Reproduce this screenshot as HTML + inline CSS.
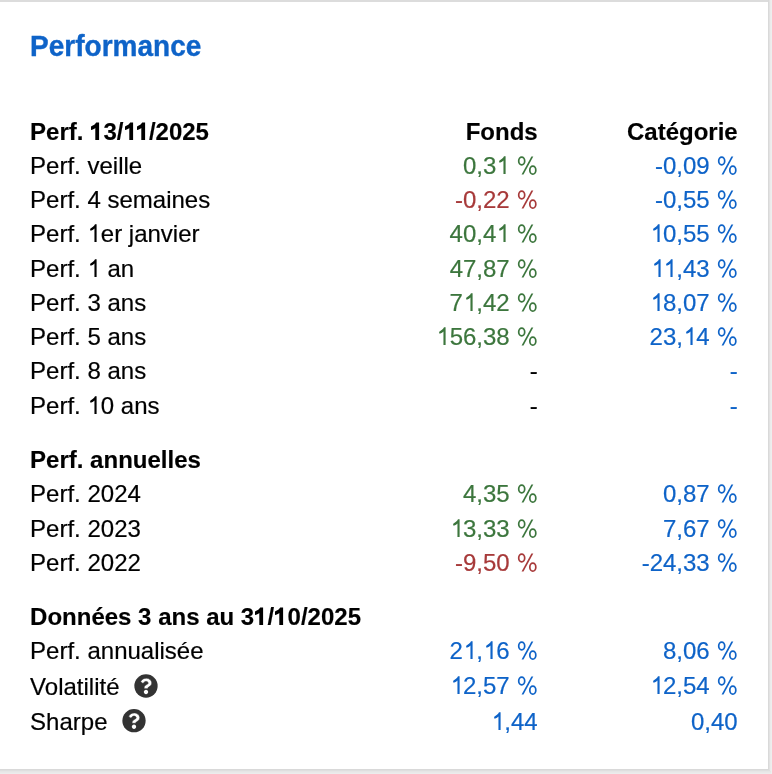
<!DOCTYPE html>
<html><head><meta charset="utf-8"><style>
html,body{margin:0;padding:0;}
body{width:772px;height:774px;background:#eeeeee;position:relative;overflow:hidden;font-family:"Liberation Sans",sans-serif;}
.card{position:absolute;left:0;top:0;width:768px;height:769px;background:#fff;}
.br{position:absolute;left:768px;top:0;width:2px;height:771px;background:#dedede;}
.bb{position:absolute;left:0;top:769px;width:770px;height:2px;background:#dadada;}
.wrap{position:absolute;left:0;top:0;width:772px;height:774px;will-change:transform;}
.title{position:absolute;left:30.1px;top:30px;font-size:28px;font-weight:bold;color:#0e63c8;line-height:34px;white-space:nowrap;transform:scaleY(1.03);transform-origin:0 26px;}
.r{position:absolute;left:0;width:772px;height:34px;line-height:34px;font-size:24px;color:#000;white-space:nowrap;}
.b{font-weight:bold;}
.l{position:absolute;left:30.1px;top:0;}
.c1{position:absolute;right:234.3px;top:0;}
.c2{position:absolute;right:34.3px;top:0;}
.q{position:absolute;}
.g{position:relative;-webkit-text-fill-color:transparent;-webkit-text-stroke-color:transparent;}
.gs{position:absolute;left:0;top:0;overflow:visible;fill:currentColor;}
.wrap .r{-webkit-text-stroke:0.2px currentColor;}
.wrap .b{-webkit-text-stroke:0.15px currentColor;}
.title{-webkit-text-stroke:0.35px currentColor;}
</style></head><body>
<div class="card"></div>
<div style="position:absolute;left:0;top:0;width:770px;height:2px;background:#dcdcdc"></div>
<div style="position:absolute;left:768px;top:0;width:1px;height:770px;background:#d9d9d9"></div>
<div style="position:absolute;left:769px;top:0;width:1px;height:771px;background:#e2e2e2"></div>
<div style="position:absolute;left:770px;top:0;width:1px;height:774px;background:#ebebeb"></div>
<div style="position:absolute;left:0;top:769px;width:769px;height:1px;background:#d9d9d9"></div>
<div style="position:absolute;left:0;top:770px;width:770px;height:1px;background:#dfdfdf"></div>
<div style="position:absolute;left:0;top:771px;width:771px;height:1px;background:#e6e6e6"></div>
<div style="position:absolute;left:0;top:772px;width:771px;height:1px;background:#e9e9e9"></div>
<div style="position:absolute;left:0;top:773px;width:771px;height:1px;background:#ececec"></div>
<div class="wrap">
<div class="title">Performance</div>
<div class="r b" style="top:115px"><span class="l">Perf. <span class="g">1<svg class="gs" width="24" height="26" viewBox="0 -22 24 26"><path d="M9.1 0L9.1 -17.45L6.2 -17.45C5.5 -15.9 3.6 -14.6 1.0 -13.6L1.0 -9.9C2.6 -10.4 4.2 -11.1 5.3 -12.0L5.3 0Z"/></svg></span>3/<span class="g" style="margin-right:-1.3242px">1<svg class="gs" width="24" height="26" viewBox="0 -22 24 26"><path d="M9.1 0L9.1 -17.45L6.2 -17.45C5.5 -15.9 3.6 -14.6 1.0 -13.6L1.0 -9.9C2.6 -10.4 4.2 -11.1 5.3 -12.0L5.3 0Z"/></svg></span><span class="g">1<svg class="gs" width="24" height="26" viewBox="0 -22 24 26"><path d="M9.1 0L9.1 -17.45L6.2 -17.45C5.5 -15.9 3.6 -14.6 1.0 -13.6L1.0 -9.9C2.6 -10.4 4.2 -11.1 5.3 -12.0L5.3 0Z"/></svg></span>/2025</span><span class="c1" style="color:#000;top:0px">Fonds</span><span class="c2" style="color:#000;top:0px">Catégorie</span></div>
<div class="r" style="top:149px"><span class="l">Perf. veille</span><span class="c1" style="color:#3c763d;top:0px">0,3<span class="g">1<svg class="gs" width="24" height="26" viewBox="0 -22 24 26"><path d="M9.6 0L9.6 -17.65L8.0 -17.65C7.3 -16.1 5.6 -14.6 3.5 -13.4C3.1 -13.1 3.0 -12.4 3.2 -11.9C3.4 -11.3 3.9 -11.2 4.4 -11.5C5.5 -12.1 6.6 -12.8 7.45 -13.6L7.45 0Z"/></svg></span> <span class="g">%<svg class="gs" width="24" height="26" viewBox="0 -22 24 26"><ellipse cx="5.7" cy="-13.0" rx="3.0" ry="3.85" fill="none" stroke="currentColor" stroke-width="1.7"/><ellipse cx="16.82" cy="-3.85" rx="3.0" ry="3.95" fill="none" stroke="currentColor" stroke-width="1.7"/><path d="M15.4 -17.45L17.3 -17.45L7.5 0.55L5.6 0.55Z"/></svg></span></span><span class="c2" style="color:#0e63c8;top:0px">-0,09 <span class="g">%<svg class="gs" width="24" height="26" viewBox="0 -22 24 26"><ellipse cx="5.7" cy="-13.0" rx="3.0" ry="3.85" fill="none" stroke="currentColor" stroke-width="1.7"/><ellipse cx="16.82" cy="-3.85" rx="3.0" ry="3.95" fill="none" stroke="currentColor" stroke-width="1.7"/><path d="M15.4 -17.45L17.3 -17.45L7.5 0.55L5.6 0.55Z"/></svg></span></span></div>
<div class="r" style="top:183px"><span class="l">Perf. 4 semaines</span><span class="c1" style="color:#a73a3a;top:0px">-0,22 <span class="g">%<svg class="gs" width="24" height="26" viewBox="0 -22 24 26"><ellipse cx="5.7" cy="-13.0" rx="3.0" ry="3.85" fill="none" stroke="currentColor" stroke-width="1.7"/><ellipse cx="16.82" cy="-3.85" rx="3.0" ry="3.95" fill="none" stroke="currentColor" stroke-width="1.7"/><path d="M15.4 -17.45L17.3 -17.45L7.5 0.55L5.6 0.55Z"/></svg></span></span><span class="c2" style="color:#0e63c8;top:0px">-0,55 <span class="g">%<svg class="gs" width="24" height="26" viewBox="0 -22 24 26"><ellipse cx="5.7" cy="-13.0" rx="3.0" ry="3.85" fill="none" stroke="currentColor" stroke-width="1.7"/><ellipse cx="16.82" cy="-3.85" rx="3.0" ry="3.95" fill="none" stroke="currentColor" stroke-width="1.7"/><path d="M15.4 -17.45L17.3 -17.45L7.5 0.55L5.6 0.55Z"/></svg></span></span></div>
<div class="r" style="top:217px"><span class="l">Perf. <span class="g">1<svg class="gs" width="24" height="26" viewBox="0 -22 24 26"><path d="M9.6 0L9.6 -17.65L8.0 -17.65C7.3 -16.1 5.6 -14.6 3.5 -13.4C3.1 -13.1 3.0 -12.4 3.2 -11.9C3.4 -11.3 3.9 -11.2 4.4 -11.5C5.5 -12.1 6.6 -12.8 7.45 -13.6L7.45 0Z"/></svg></span>er janvier</span><span class="c1" style="color:#3c763d;top:0px">40,4<span class="g">1<svg class="gs" width="24" height="26" viewBox="0 -22 24 26"><path d="M9.6 0L9.6 -17.65L8.0 -17.65C7.3 -16.1 5.6 -14.6 3.5 -13.4C3.1 -13.1 3.0 -12.4 3.2 -11.9C3.4 -11.3 3.9 -11.2 4.4 -11.5C5.5 -12.1 6.6 -12.8 7.45 -13.6L7.45 0Z"/></svg></span> <span class="g">%<svg class="gs" width="24" height="26" viewBox="0 -22 24 26"><ellipse cx="5.7" cy="-13.0" rx="3.0" ry="3.85" fill="none" stroke="currentColor" stroke-width="1.7"/><ellipse cx="16.82" cy="-3.85" rx="3.0" ry="3.95" fill="none" stroke="currentColor" stroke-width="1.7"/><path d="M15.4 -17.45L17.3 -17.45L7.5 0.55L5.6 0.55Z"/></svg></span></span><span class="c2" style="color:#0e63c8;top:0px"><span class="g">1<svg class="gs" width="24" height="26" viewBox="0 -22 24 26"><path d="M9.6 0L9.6 -17.65L8.0 -17.65C7.3 -16.1 5.6 -14.6 3.5 -13.4C3.1 -13.1 3.0 -12.4 3.2 -11.9C3.4 -11.3 3.9 -11.2 4.4 -11.5C5.5 -12.1 6.6 -12.8 7.45 -13.6L7.45 0Z"/></svg></span>0,55 <span class="g">%<svg class="gs" width="24" height="26" viewBox="0 -22 24 26"><ellipse cx="5.7" cy="-13.0" rx="3.0" ry="3.85" fill="none" stroke="currentColor" stroke-width="1.7"/><ellipse cx="16.82" cy="-3.85" rx="3.0" ry="3.95" fill="none" stroke="currentColor" stroke-width="1.7"/><path d="M15.4 -17.45L17.3 -17.45L7.5 0.55L5.6 0.55Z"/></svg></span></span></div>
<div class="r" style="top:252px"><span class="l">Perf. <span class="g">1<svg class="gs" width="24" height="26" viewBox="0 -22 24 26"><path d="M9.6 0L9.6 -17.65L8.0 -17.65C7.3 -16.1 5.6 -14.6 3.5 -13.4C3.1 -13.1 3.0 -12.4 3.2 -11.9C3.4 -11.3 3.9 -11.2 4.4 -11.5C5.5 -12.1 6.6 -12.8 7.45 -13.6L7.45 0Z"/></svg></span> an</span><span class="c1" style="color:#3c763d;top:0px">47,87 <span class="g">%<svg class="gs" width="24" height="26" viewBox="0 -22 24 26"><ellipse cx="5.7" cy="-13.0" rx="3.0" ry="3.85" fill="none" stroke="currentColor" stroke-width="1.7"/><ellipse cx="16.82" cy="-3.85" rx="3.0" ry="3.95" fill="none" stroke="currentColor" stroke-width="1.7"/><path d="M15.4 -17.45L17.3 -17.45L7.5 0.55L5.6 0.55Z"/></svg></span></span><span class="c2" style="color:#0e63c8;top:0px"><span class="g" style="margin-right:-1.7812px">1<svg class="gs" width="24" height="26" viewBox="0 -22 24 26"><path d="M9.6 0L9.6 -17.65L8.0 -17.65C7.3 -16.1 5.6 -14.6 3.5 -13.4C3.1 -13.1 3.0 -12.4 3.2 -11.9C3.4 -11.3 3.9 -11.2 4.4 -11.5C5.5 -12.1 6.6 -12.8 7.45 -13.6L7.45 0Z"/></svg></span><span class="g">1<svg class="gs" width="24" height="26" viewBox="0 -22 24 26"><path d="M9.6 0L9.6 -17.65L8.0 -17.65C7.3 -16.1 5.6 -14.6 3.5 -13.4C3.1 -13.1 3.0 -12.4 3.2 -11.9C3.4 -11.3 3.9 -11.2 4.4 -11.5C5.5 -12.1 6.6 -12.8 7.45 -13.6L7.45 0Z"/></svg></span>,43 <span class="g">%<svg class="gs" width="24" height="26" viewBox="0 -22 24 26"><ellipse cx="5.7" cy="-13.0" rx="3.0" ry="3.85" fill="none" stroke="currentColor" stroke-width="1.7"/><ellipse cx="16.82" cy="-3.85" rx="3.0" ry="3.95" fill="none" stroke="currentColor" stroke-width="1.7"/><path d="M15.4 -17.45L17.3 -17.45L7.5 0.55L5.6 0.55Z"/></svg></span></span></div>
<div class="r" style="top:286px"><span class="l">Perf. 3 ans</span><span class="c1" style="color:#3c763d;top:0px">7<span class="g">1<svg class="gs" width="24" height="26" viewBox="0 -22 24 26"><path d="M9.6 0L9.6 -17.65L8.0 -17.65C7.3 -16.1 5.6 -14.6 3.5 -13.4C3.1 -13.1 3.0 -12.4 3.2 -11.9C3.4 -11.3 3.9 -11.2 4.4 -11.5C5.5 -12.1 6.6 -12.8 7.45 -13.6L7.45 0Z"/></svg></span>,42 <span class="g">%<svg class="gs" width="24" height="26" viewBox="0 -22 24 26"><ellipse cx="5.7" cy="-13.0" rx="3.0" ry="3.85" fill="none" stroke="currentColor" stroke-width="1.7"/><ellipse cx="16.82" cy="-3.85" rx="3.0" ry="3.95" fill="none" stroke="currentColor" stroke-width="1.7"/><path d="M15.4 -17.45L17.3 -17.45L7.5 0.55L5.6 0.55Z"/></svg></span></span><span class="c2" style="color:#0e63c8;top:0px"><span class="g">1<svg class="gs" width="24" height="26" viewBox="0 -22 24 26"><path d="M9.6 0L9.6 -17.65L8.0 -17.65C7.3 -16.1 5.6 -14.6 3.5 -13.4C3.1 -13.1 3.0 -12.4 3.2 -11.9C3.4 -11.3 3.9 -11.2 4.4 -11.5C5.5 -12.1 6.6 -12.8 7.45 -13.6L7.45 0Z"/></svg></span>8,07 <span class="g">%<svg class="gs" width="24" height="26" viewBox="0 -22 24 26"><ellipse cx="5.7" cy="-13.0" rx="3.0" ry="3.85" fill="none" stroke="currentColor" stroke-width="1.7"/><ellipse cx="16.82" cy="-3.85" rx="3.0" ry="3.95" fill="none" stroke="currentColor" stroke-width="1.7"/><path d="M15.4 -17.45L17.3 -17.45L7.5 0.55L5.6 0.55Z"/></svg></span></span></div>
<div class="r" style="top:320px"><span class="l">Perf. 5 ans</span><span class="c1" style="color:#3c763d;top:0px"><span class="g">1<svg class="gs" width="24" height="26" viewBox="0 -22 24 26"><path d="M9.6 0L9.6 -17.65L8.0 -17.65C7.3 -16.1 5.6 -14.6 3.5 -13.4C3.1 -13.1 3.0 -12.4 3.2 -11.9C3.4 -11.3 3.9 -11.2 4.4 -11.5C5.5 -12.1 6.6 -12.8 7.45 -13.6L7.45 0Z"/></svg></span>56,38 <span class="g">%<svg class="gs" width="24" height="26" viewBox="0 -22 24 26"><ellipse cx="5.7" cy="-13.0" rx="3.0" ry="3.85" fill="none" stroke="currentColor" stroke-width="1.7"/><ellipse cx="16.82" cy="-3.85" rx="3.0" ry="3.95" fill="none" stroke="currentColor" stroke-width="1.7"/><path d="M15.4 -17.45L17.3 -17.45L7.5 0.55L5.6 0.55Z"/></svg></span></span><span class="c2" style="color:#0e63c8;top:0px">23,<span class="g">1<svg class="gs" width="24" height="26" viewBox="0 -22 24 26"><path d="M9.6 0L9.6 -17.65L8.0 -17.65C7.3 -16.1 5.6 -14.6 3.5 -13.4C3.1 -13.1 3.0 -12.4 3.2 -11.9C3.4 -11.3 3.9 -11.2 4.4 -11.5C5.5 -12.1 6.6 -12.8 7.45 -13.6L7.45 0Z"/></svg></span>4 <span class="g">%<svg class="gs" width="24" height="26" viewBox="0 -22 24 26"><ellipse cx="5.7" cy="-13.0" rx="3.0" ry="3.85" fill="none" stroke="currentColor" stroke-width="1.7"/><ellipse cx="16.82" cy="-3.85" rx="3.0" ry="3.95" fill="none" stroke="currentColor" stroke-width="1.7"/><path d="M15.4 -17.45L17.3 -17.45L7.5 0.55L5.6 0.55Z"/></svg></span></span></div>
<div class="r" style="top:354px"><span class="l">Perf. 8 ans</span><span class="c1" style="color:#000;top:0px">-</span><span class="c2" style="color:#0e63c8;top:0px">-</span></div>
<div class="r" style="top:389px"><span class="l">Perf. <span class="g">1<svg class="gs" width="24" height="26" viewBox="0 -22 24 26"><path d="M9.6 0L9.6 -17.65L8.0 -17.65C7.3 -16.1 5.6 -14.6 3.5 -13.4C3.1 -13.1 3.0 -12.4 3.2 -11.9C3.4 -11.3 3.9 -11.2 4.4 -11.5C5.5 -12.1 6.6 -12.8 7.45 -13.6L7.45 0Z"/></svg></span>0 ans</span><span class="c1" style="color:#000;top:0px">-</span><span class="c2" style="color:#0e63c8;top:0px">-</span></div>
<div class="r b" style="top:443px"><span class="l">Perf. annuelles</span><span class="c1" style="color:#000;top:0px"></span><span class="c2" style="color:#000;top:0px"></span></div>
<div class="r" style="top:477px"><span class="l">Perf. 2024</span><span class="c1" style="color:#3c763d;top:0px">4,35 <span class="g">%<svg class="gs" width="24" height="26" viewBox="0 -22 24 26"><ellipse cx="5.7" cy="-13.0" rx="3.0" ry="3.85" fill="none" stroke="currentColor" stroke-width="1.7"/><ellipse cx="16.82" cy="-3.85" rx="3.0" ry="3.95" fill="none" stroke="currentColor" stroke-width="1.7"/><path d="M15.4 -17.45L17.3 -17.45L7.5 0.55L5.6 0.55Z"/></svg></span></span><span class="c2" style="color:#0e63c8;top:0px">0,87 <span class="g">%<svg class="gs" width="24" height="26" viewBox="0 -22 24 26"><ellipse cx="5.7" cy="-13.0" rx="3.0" ry="3.85" fill="none" stroke="currentColor" stroke-width="1.7"/><ellipse cx="16.82" cy="-3.85" rx="3.0" ry="3.95" fill="none" stroke="currentColor" stroke-width="1.7"/><path d="M15.4 -17.45L17.3 -17.45L7.5 0.55L5.6 0.55Z"/></svg></span></span></div>
<div class="r" style="top:512px"><span class="l">Perf. 2023</span><span class="c1" style="color:#3c763d;top:0px"><span class="g">1<svg class="gs" width="24" height="26" viewBox="0 -22 24 26"><path d="M9.6 0L9.6 -17.65L8.0 -17.65C7.3 -16.1 5.6 -14.6 3.5 -13.4C3.1 -13.1 3.0 -12.4 3.2 -11.9C3.4 -11.3 3.9 -11.2 4.4 -11.5C5.5 -12.1 6.6 -12.8 7.45 -13.6L7.45 0Z"/></svg></span>3,33 <span class="g">%<svg class="gs" width="24" height="26" viewBox="0 -22 24 26"><ellipse cx="5.7" cy="-13.0" rx="3.0" ry="3.85" fill="none" stroke="currentColor" stroke-width="1.7"/><ellipse cx="16.82" cy="-3.85" rx="3.0" ry="3.95" fill="none" stroke="currentColor" stroke-width="1.7"/><path d="M15.4 -17.45L17.3 -17.45L7.5 0.55L5.6 0.55Z"/></svg></span></span><span class="c2" style="color:#0e63c8;top:0px">7,67 <span class="g">%<svg class="gs" width="24" height="26" viewBox="0 -22 24 26"><ellipse cx="5.7" cy="-13.0" rx="3.0" ry="3.85" fill="none" stroke="currentColor" stroke-width="1.7"/><ellipse cx="16.82" cy="-3.85" rx="3.0" ry="3.95" fill="none" stroke="currentColor" stroke-width="1.7"/><path d="M15.4 -17.45L17.3 -17.45L7.5 0.55L5.6 0.55Z"/></svg></span></span></div>
<div class="r" style="top:546px"><span class="l">Perf. 2022</span><span class="c1" style="color:#a73a3a;top:0px">-9,50 <span class="g">%<svg class="gs" width="24" height="26" viewBox="0 -22 24 26"><ellipse cx="5.7" cy="-13.0" rx="3.0" ry="3.85" fill="none" stroke="currentColor" stroke-width="1.7"/><ellipse cx="16.82" cy="-3.85" rx="3.0" ry="3.95" fill="none" stroke="currentColor" stroke-width="1.7"/><path d="M15.4 -17.45L17.3 -17.45L7.5 0.55L5.6 0.55Z"/></svg></span></span><span class="c2" style="color:#0e63c8;top:0px">-24,33 <span class="g">%<svg class="gs" width="24" height="26" viewBox="0 -22 24 26"><ellipse cx="5.7" cy="-13.0" rx="3.0" ry="3.85" fill="none" stroke="currentColor" stroke-width="1.7"/><ellipse cx="16.82" cy="-3.85" rx="3.0" ry="3.95" fill="none" stroke="currentColor" stroke-width="1.7"/><path d="M15.4 -17.45L17.3 -17.45L7.5 0.55L5.6 0.55Z"/></svg></span></span></div>
<div class="r b" style="top:600px"><span class="l">Données 3 ans au 3<span class="g">1<svg class="gs" width="24" height="26" viewBox="0 -22 24 26"><path d="M9.1 0L9.1 -17.45L6.2 -17.45C5.5 -15.9 3.6 -14.6 1.0 -13.6L1.0 -9.9C2.6 -10.4 4.2 -11.1 5.3 -12.0L5.3 0Z"/></svg></span>/<span class="g">1<svg class="gs" width="24" height="26" viewBox="0 -22 24 26"><path d="M9.1 0L9.1 -17.45L6.2 -17.45C5.5 -15.9 3.6 -14.6 1.0 -13.6L1.0 -9.9C2.6 -10.4 4.2 -11.1 5.3 -12.0L5.3 0Z"/></svg></span>0/2025</span><span class="c1" style="color:#000;top:0px"></span><span class="c2" style="color:#000;top:0px"></span></div>
<div class="r" style="top:634px"><span class="l">Perf. annualisée</span><span class="c1" style="color:#0e63c8;top:0px">2<span class="g">1<svg class="gs" width="24" height="26" viewBox="0 -22 24 26"><path d="M9.6 0L9.6 -17.65L8.0 -17.65C7.3 -16.1 5.6 -14.6 3.5 -13.4C3.1 -13.1 3.0 -12.4 3.2 -11.9C3.4 -11.3 3.9 -11.2 4.4 -11.5C5.5 -12.1 6.6 -12.8 7.45 -13.6L7.45 0Z"/></svg></span>,<span class="g">1<svg class="gs" width="24" height="26" viewBox="0 -22 24 26"><path d="M9.6 0L9.6 -17.65L8.0 -17.65C7.3 -16.1 5.6 -14.6 3.5 -13.4C3.1 -13.1 3.0 -12.4 3.2 -11.9C3.4 -11.3 3.9 -11.2 4.4 -11.5C5.5 -12.1 6.6 -12.8 7.45 -13.6L7.45 0Z"/></svg></span>6 <span class="g">%<svg class="gs" width="24" height="26" viewBox="0 -22 24 26"><ellipse cx="5.7" cy="-13.0" rx="3.0" ry="3.85" fill="none" stroke="currentColor" stroke-width="1.7"/><ellipse cx="16.82" cy="-3.85" rx="3.0" ry="3.95" fill="none" stroke="currentColor" stroke-width="1.7"/><path d="M15.4 -17.45L17.3 -17.45L7.5 0.55L5.6 0.55Z"/></svg></span></span><span class="c2" style="color:#0e63c8;top:0px">8,06 <span class="g">%<svg class="gs" width="24" height="26" viewBox="0 -22 24 26"><ellipse cx="5.7" cy="-13.0" rx="3.0" ry="3.85" fill="none" stroke="currentColor" stroke-width="1.7"/><ellipse cx="16.82" cy="-3.85" rx="3.0" ry="3.95" fill="none" stroke="currentColor" stroke-width="1.7"/><path d="M15.4 -17.45L17.3 -17.45L7.5 0.55L5.6 0.55Z"/></svg></span></span></div>
<div class="r" style="top:670px"><span class="l">Volatilité</span><span class="c1" style="color:#0e63c8;top:-1px"><span class="g">1<svg class="gs" width="24" height="26" viewBox="0 -22 24 26"><path d="M9.6 0L9.6 -17.65L8.0 -17.65C7.3 -16.1 5.6 -14.6 3.5 -13.4C3.1 -13.1 3.0 -12.4 3.2 -11.9C3.4 -11.3 3.9 -11.2 4.4 -11.5C5.5 -12.1 6.6 -12.8 7.45 -13.6L7.45 0Z"/></svg></span>2,57 <span class="g">%<svg class="gs" width="24" height="26" viewBox="0 -22 24 26"><ellipse cx="5.7" cy="-13.0" rx="3.0" ry="3.85" fill="none" stroke="currentColor" stroke-width="1.7"/><ellipse cx="16.82" cy="-3.85" rx="3.0" ry="3.95" fill="none" stroke="currentColor" stroke-width="1.7"/><path d="M15.4 -17.45L17.3 -17.45L7.5 0.55L5.6 0.55Z"/></svg></span></span><span class="c2" style="color:#0e63c8;top:-1px"><span class="g">1<svg class="gs" width="24" height="26" viewBox="0 -22 24 26"><path d="M9.6 0L9.6 -17.65L8.0 -17.65C7.3 -16.1 5.6 -14.6 3.5 -13.4C3.1 -13.1 3.0 -12.4 3.2 -11.9C3.4 -11.3 3.9 -11.2 4.4 -11.5C5.5 -12.1 6.6 -12.8 7.45 -13.6L7.45 0Z"/></svg></span>2,54 <span class="g">%<svg class="gs" width="24" height="26" viewBox="0 -22 24 26"><ellipse cx="5.7" cy="-13.0" rx="3.0" ry="3.85" fill="none" stroke="currentColor" stroke-width="1.7"/><ellipse cx="16.82" cy="-3.85" rx="3.0" ry="3.95" fill="none" stroke="currentColor" stroke-width="1.7"/><path d="M15.4 -17.45L17.3 -17.45L7.5 0.55L5.6 0.55Z"/></svg></span></span></div>
<div class="r" style="top:705px"><span class="l">Sharpe</span><span class="c1" style="color:#0e63c8;top:0px"><span class="g">1<svg class="gs" width="24" height="26" viewBox="0 -22 24 26"><path d="M9.6 0L9.6 -17.65L8.0 -17.65C7.3 -16.1 5.6 -14.6 3.5 -13.4C3.1 -13.1 3.0 -12.4 3.2 -11.9C3.4 -11.3 3.9 -11.2 4.4 -11.5C5.5 -12.1 6.6 -12.8 7.45 -13.6L7.45 0Z"/></svg></span>,44</span><span class="c2" style="color:#0e63c8;top:0px">0,40</span></div>
<svg class="q" style="left:132px;top:672px" width="32" height="32" viewBox="0 0 32 32"><g transform="translate(2.350 2.350) scale(0.04698) translate(-8 -8)"><circle cx="256" cy="256" r="248" fill="#333"/><path fill="#fff" stroke="#333" stroke-width="12" d="M262.655 90c-54.497 0-89.255 22.957-116.549 63.758-3.536 5.286-2.353 12.415 2.715 16.258l34.699 26.31c5.205 3.947 12.621 3.008 16.665-2.122 17.864-22.658 30.113-35.797 57.303-35.797 20.429 0 45.698 13.148 45.698 32.958 0 14.976-12.363 22.667-32.534 33.976C247.128 238.528 216 254.941 216 296v4c0 6.627 5.373 12 12 12h56c6.627 0 12-5.373 12-12v-1.333c0-28.462 83.186-29.647 83.186-106.667 0-58.002-60.165-102-116.531-102z"/><path fill="#fff" d="M256 338c-25.365 0-46 20.635-46 46 0 25.364 20.635 46 46 46s46-20.636 46-46c0-25.365-20.635-46-46-46z"/></g></svg>
<svg class="q" style="left:120px;top:707px" width="32" height="32" viewBox="0 0 32 32"><g transform="translate(2.350 2.050) scale(0.04698) translate(-8 -8)"><circle cx="256" cy="256" r="248" fill="#333"/><path fill="#fff" stroke="#333" stroke-width="12" d="M262.655 90c-54.497 0-89.255 22.957-116.549 63.758-3.536 5.286-2.353 12.415 2.715 16.258l34.699 26.31c5.205 3.947 12.621 3.008 16.665-2.122 17.864-22.658 30.113-35.797 57.303-35.797 20.429 0 45.698 13.148 45.698 32.958 0 14.976-12.363 22.667-32.534 33.976C247.128 238.528 216 254.941 216 296v4c0 6.627 5.373 12 12 12h56c6.627 0 12-5.373 12-12v-1.333c0-28.462 83.186-29.647 83.186-106.667 0-58.002-60.165-102-116.531-102z"/><path fill="#fff" d="M256 338c-25.365 0-46 20.635-46 46 0 25.364 20.635 46 46 46s46-20.636 46-46c0-25.365-20.635-46-46-46z"/></g></svg>
</div>
</body></html>
